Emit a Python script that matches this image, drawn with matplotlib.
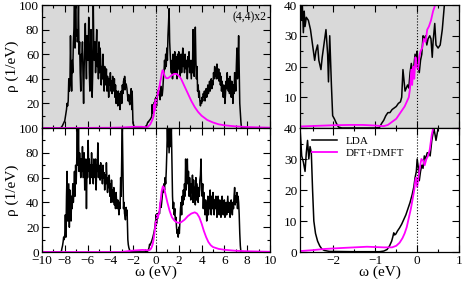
import numpy as np
import matplotlib
matplotlib.use("Agg")
import matplotlib.pyplot as plt
from matplotlib.ticker import MultipleLocator

plt.rcParams['font.family'] = ['Liberation Serif', 'DejaVu Serif']

# (4,4)x2 : LDA density of states, (omega, rho) pairs
lda_top = [
    (-10, 0), (-8.5, 0), (-8.3, 0.5), (-8.2, 2), (-8.1, 4), (-8.0, 6), (-7.9, 12), (-7.85, 15),
    (-7.8, 20), (-7.75, 18), (-7.7, 22), (-7.65, 40), (-7.6, 30), (-7.55, 35), (-7.5, 75),
    (-7.45, 45), (-7.4, 30), (-7.35, 55), (-7.3, 45), (-7.25, 70), (-7.2, 80), (-7.15, 100),
    (-7.1, 65), (-7.05, 100), (-7.0, 75), (-6.95, 80), (-6.9, 70), (-6.85, 75), (-6.8, 100),
    (-6.75, 60), (-6.7, 70), (-6.65, 45), (-6.6, 30), (-6.55, 60), (-6.5, 55), (-6.45, 70),
    (-6.4, 40), (-6.35, 20), (-6.3, 50), (-6.25, 65), (-6.2, 85), (-6.15, 60), (-6.1, 40),
    (-6.05, 75), (-6.0, 70), (-5.95, 55), (-5.9, 90), (-5.85, 45), (-5.8, 30), (-5.75, 60),
    (-5.7, 80), (-5.65, 50), (-5.6, 25), (-5.55, 45), (-5.5, 100), (-5.45, 60), (-5.4, 55),
    (-5.35, 70), (-5.3, 45), (-5.25, 65), (-5.2, 80), (-5.15, 50), (-5.1, 60), (-5.05, 40),
    (-5.0, 70), (-4.95, 45), (-4.9, 65), (-4.85, 55), (-4.8, 35), (-4.75, 50), (-4.7, 40),
    (-4.65, 60), (-4.6, 45), (-4.55, 30), (-4.5, 50), (-4.45, 40), (-4.4, 35), (-4.35, 48),
    (-4.3, 30), (-4.25, 42), (-4.2, 38), (-4.15, 25), (-4.1, 40), (-4.05, 35), (-4.0, 45),
    (-3.95, 30), (-3.9, 38), (-3.85, 28), (-3.8, 42), (-3.75, 35), (-3.7, 30), (-3.65, 40),
    (-3.6, 25), (-3.55, 35), (-3.5, 20), (-3.45, 30), (-3.4, 25), (-3.35, 18), (-3.3, 30),
    (-3.25, 22), (-3.2, 28), (-3.15, 15), (-3.1, 25), (-3.05, 30), (-3.0, 20), (-2.95, 35),
    (-2.9, 28), (-2.85, 38), (-2.8, 40), (-2.77, 35), (-2.75, 42), (-2.72, 31), (-2.7, 38),
    (-2.68, 33), (-2.65, 36), (-2.6, 35), (-2.55, 32), (-2.5, 27), (-2.45, 22), (-2.42, 25),
    (-2.38, 27), (-2.35, 22), (-2.3, 19), (-2.27, 23), (-2.22, 28), (-2.18, 32), (-2.14, 24),
    (-2.12, 15), (-2.09, 30), (-2.05, 14), (-2.02, 4), (-1.98, 3), (-1.93, 1.5), (-1.88, 0.3),
    (-1.8, 0), (-1.0, 0), (-0.9, 0.2), (-0.85, 1.5), (-0.8, 2.5), (-0.75, 4), (-0.7, 5),
    (-0.65, 5), (-0.6, 6), (-0.55, 6.5), (-0.5, 7), (-0.45, 8), (-0.4, 8.5), (-0.37, 10),
    (-0.34, 19), (-0.31, 15), (-0.29, 12), (-0.26, 13), (-0.23, 14), (-0.2, 13), (-0.17, 18),
    (-0.14, 21), (-0.11, 18), (-0.08, 20), (-0.05, 24), (-0.02, 22), (0.0, 25), (0.02, 20),
    (0.05, 18), (0.08, 22), (0.11, 24), (0.14, 30), (0.17, 29), (0.2, 30), (0.23, 27),
    (0.26, 29), (0.3, 30), (0.33, 29), (0.36, 23), (0.38, 28), (0.42, 34), (0.45, 27),
    (0.5, 26), (0.55, 27), (0.6, 32), (0.65, 40), (0.7, 45), (0.75, 55), (0.8, 48), (0.85, 60),
    (0.9, 50), (0.95, 65), (1.0, 55), (1.05, 75), (1.1, 85), (1.15, 97), (1.2, 70), (1.25, 60),
    (1.3, 50), (1.35, 45), (1.4, 55), (1.45, 40), (1.5, 60), (1.55, 45), (1.6, 55), (1.65, 62),
    (1.7, 45), (1.75, 58), (1.8, 50), (1.85, 40), (1.9, 60), (1.95, 48), (2.0, 62), (2.05, 50),
    (2.1, 42), (2.15, 55), (2.2, 60), (2.25, 45), (2.3, 55), (2.35, 65), (2.4, 50), (2.45, 58),
    (2.5, 45), (2.55, 60), (2.6, 52), (2.65, 48), (2.7, 55), (2.75, 40), (2.8, 58), (2.85, 50),
    (2.9, 62), (2.95, 45), (3.0, 55), (3.05, 48), (3.1, 40), (3.15, 55), (3.2, 45), (3.25, 80),
    (3.3, 50), (3.35, 42), (3.4, 60), (3.45, 82), (3.5, 55), (3.55, 40), (3.6, 50), (3.65, 30),
    (3.7, 35), (3.75, 25), (3.8, 30), (3.85, 22), (3.9, 18), (3.95, 22), (4.0, 20), (4.05, 25),
    (4.1, 22), (4.15, 28), (4.2, 25), (4.25, 30), (4.3, 22), (4.35, 28), (4.4, 32), (4.45, 25),
    (4.5, 30), (4.55, 35), (4.6, 28), (4.65, 32), (4.7, 38), (4.75, 30), (4.8, 35), (4.85, 40),
    (4.9, 32), (4.95, 38), (5.0, 35), (5.05, 45), (5.1, 40), (5.15, 50), (5.2, 42), (5.25, 48),
    (5.3, 40), (5.35, 52), (5.4, 45), (5.45, 40), (5.5, 48), (5.55, 38), (5.6, 45), (5.65, 35),
    (5.7, 42), (5.75, 30), (5.8, 38), (5.85, 32), (5.9, 25), (5.95, 35), (6.0, 30), (6.05, 20),
    (6.1, 28), (6.15, 38), (6.2, 32), (6.25, 45), (6.3, 35), (6.35, 30), (6.4, 40), (6.45, 28),
    (6.5, 42), (6.55, 35), (6.6, 25), (6.65, 38), (6.7, 32), (6.75, 20), (6.8, 35), (6.85, 28),
    (6.9, 45), (6.95, 40), (7.0, 30), (7.05, 50), (7.1, 65), (7.15, 40), (7.2, 55), (7.25, 75),
    (7.3, 45), (7.35, 20), (7.4, 12), (7.45, 5), (7.5, 0), (10, 0),
]

# (4,4)x2 : DFT+DMFT spectral function
dmft_top = [
    (-10, 0), (-8, 0), (-6, 0.1), (-4, 0.2), (-3, 0.4), (-2.8, 0.5), (-2.4, 0.7), (-2.0, 0.9),
    (-1.6, 1.0), (-1.3, 1.0), (-1.0, 0.8), (-0.8, 0.6), (-0.7, 1.0), (-0.6, 2), (-0.5, 3),
    (-0.4, 5), (-0.3, 7), (-0.25, 8.5), (-0.2, 10), (-0.17, 13), (-0.14, 19), (-0.12, 14),
    (-0.09, 20), (-0.07, 16), (-0.04, 23), (-0.01, 20), (0.02, 19), (0.05, 23), (0.08, 25),
    (0.12, 26), (0.16, 29), (0.2, 28), (0.24, 32), (0.28, 33), (0.33, 35), (0.38, 38),
    (0.43, 40), (0.5, 44), (0.58, 47), (0.65, 46), (0.75, 42.5), (0.9, 40.5), (1.05, 40.5),
    (1.2, 41.5), (1.4, 43), (1.6, 44), (1.8, 44), (2.0, 42.5), (2.2, 40), (2.5, 34), (2.8, 28),
    (3.1, 22), (3.4, 17), (3.7, 13), (4.0, 10), (4.5, 6.5), (5.0, 4.5), (5.5, 3), (6, 2.2),
    (7, 1.3), (8, 0.8), (9, 0.5), (10, 0.3),
]

# second system : LDA
lda_bot = [
    (-10, 0), (-8.4, 0), (-8.3, 0.5), (-8.25, 3), (-8.2, 5), (-8.15, 8), (-8.1, 12), (-8.05, 10),
    (-8.0, 14), (-7.95, 30), (-7.9, 12), (-7.85, 45), (-7.8, 65), (-7.75, 25), (-7.7, 40),
    (-7.65, 55), (-7.6, 20), (-7.55, 50), (-7.5, 30), (-7.45, 25), (-7.4, 45), (-7.35, 35),
    (-7.3, 55), (-7.25, 40), (-7.2, 50), (-7.15, 65), (-7.1, 45), (-7.05, 70), (-7.0, 55),
    (-6.95, 75), (-6.9, 100), (-6.85, 70), (-6.8, 100), (-6.75, 65), (-6.7, 80), (-6.65, 70),
    (-6.6, 60), (-6.55, 75), (-6.5, 65), (-6.45, 85), (-6.4, 60), (-6.35, 70), (-6.3, 80),
    (-6.25, 50), (-6.2, 65), (-6.15, 75), (-6.1, 35), (-6.05, 70), (-6.0, 60), (-5.95, 90),
    (-5.9, 65), (-5.85, 75), (-5.8, 55), (-5.75, 70), (-5.7, 60), (-5.65, 80), (-5.6, 65),
    (-5.55, 70), (-5.5, 55), (-5.45, 75), (-5.4, 65), (-5.35, 60), (-5.3, 75), (-5.25, 50),
    (-5.2, 70), (-5.15, 65), (-5.1, 88), (-5.05, 60), (-5.0, 70), (-4.95, 62), (-4.9, 58),
    (-4.85, 72), (-4.8, 60), (-4.75, 66), (-4.7, 55), (-4.65, 70), (-4.6, 60), (-4.55, 64),
    (-4.5, 50), (-4.45, 62), (-4.4, 55), (-4.35, 72), (-4.3, 58), (-4.25, 48), (-4.2, 60),
    (-4.15, 52), (-4.1, 62), (-4.05, 45), (-4.0, 55), (-3.95, 40), (-3.9, 58), (-3.85, 45),
    (-3.8, 50), (-3.75, 40), (-3.7, 52), (-3.65, 38), (-3.6, 45), (-3.55, 35), (-3.5, 48),
    (-3.45, 40), (-3.4, 35), (-3.35, 42), (-3.3, 38), (-3.25, 30), (-3.2, 40), (-3.15, 35),
    (-3.1, 60), (-3.05, 45), (-3.0, 80), (-2.95, 100), (-2.9, 70), (-2.85, 35), (-2.8, 40),
    (-2.76, 31), (-2.72, 29), (-2.68, 26), (-2.65, 32), (-2.62, 36), (-2.59, 30), (-2.56, 34),
    (-2.53, 32), (-2.5, 20), (-2.47, 10), (-2.43, 6), (-2.38, 3.5), (-2.33, 2), (-2.28, 1),
    (-2.22, 0.5), (-2.1, 0.2), (-1.5, 0.1), (-0.9, 0.1), (-0.8, 0.3), (-0.72, 0.8), (-0.66, 2),
    (-0.61, 3.5), (-0.58, 5), (-0.56, 6.2), (-0.54, 5.5), (-0.51, 5.8), (-0.47, 6.8),
    (-0.42, 7.8), (-0.37, 9), (-0.32, 10.5), (-0.27, 12), (-0.22, 14), (-0.17, 16),
    (-0.12, 18.5), (-0.08, 21), (-0.05, 24), (-0.02, 26), (0.0, 30), (0.03, 27), (0.05, 23),
    (0.08, 26), (0.11, 28), (0.14, 27), (0.17, 31), (0.2, 30), (0.24, 32), (0.28, 32),
    (0.31, 31), (0.35, 36), (0.4, 40), (0.45, 36), (0.5, 40), (0.55, 45), (0.6, 52), (0.65, 48),
    (0.7, 55), (0.75, 50), (0.8, 60), (0.85, 55), (0.9, 65), (0.95, 80), (1.0, 100), (1.05, 85),
    (1.1, 100), (1.15, 80), (1.2, 90), (1.25, 100), (1.3, 85), (1.35, 100), (1.4, 70),
    (1.45, 45), (1.5, 35), (1.55, 40), (1.6, 30), (1.65, 35), (1.7, 25), (1.75, 28), (1.8, 20),
    (1.85, 15), (1.9, 18), (1.95, 12), (2.0, 20), (2.05, 15), (2.1, 25), (2.15, 35), (2.2, 40),
    (2.25, 30), (2.3, 45), (2.35, 38), (2.4, 50), (2.45, 42), (2.5, 55), (2.55, 45), (2.6, 75),
    (2.65, 50), (2.7, 60), (2.75, 75), (2.8, 55), (2.85, 65), (2.9, 45), (2.95, 60), (3.0, 50),
    (3.05, 42), (3.1, 55), (3.15, 48), (3.2, 62), (3.25, 40), (3.3, 58), (3.35, 45), (3.4, 52),
    (3.45, 38), (3.5, 60), (3.55, 42), (3.6, 55), (3.65, 48), (3.7, 40), (3.75, 52), (3.8, 45),
    (3.85, 58), (3.9, 62), (3.95, 75), (4.0, 50), (4.05, 45), (4.1, 55), (4.15, 35), (4.2, 48),
    (4.25, 40), (4.3, 30), (4.35, 42), (4.4, 38), (4.45, 25), (4.5, 35), (4.55, 45), (4.6, 30),
    (4.65, 40), (4.7, 35), (4.75, 50), (4.8, 38), (4.85, 30), (4.9, 45), (4.95, 35), (5.0, 48),
    (5.05, 40), (5.1, 30), (5.15, 42), (5.2, 35), (5.25, 45), (5.3, 38), (5.35, 28), (5.4, 40),
    (5.45, 45), (5.5, 35), (5.55, 30), (5.6, 42), (5.65, 38), (5.7, 28), (5.75, 35), (5.8, 45),
    (5.85, 40), (5.9, 30), (5.95, 38), (6.0, 42), (6.05, 28), (6.1, 35), (6.15, 40), (6.2, 30),
    (6.25, 38), (6.3, 45), (6.35, 32), (6.4, 40), (6.45, 35), (6.5, 28), (6.55, 38), (6.6, 42),
    (6.65, 35), (6.7, 30), (6.75, 40), (6.8, 35), (6.85, 45), (6.9, 52), (6.95, 38), (7.0, 45),
    (7.05, 40), (7.1, 48), (7.15, 35), (7.2, 45), (7.25, 40), (7.3, 30), (7.35, 15), (7.4, 5),
    (7.45, 0), (10, 0),
]

# second system : DFT+DMFT
dmft_bot = [
    (-10, 0), (-3, 0), (-2.8, 0.3), (-2.5, 0.6), (-2.2, 1.0), (-1.8, 1.3), (-1.5, 1.5),
    (-1.2, 1.7), (-1.0, 1.6), (-0.8, 1.5), (-0.6, 1.5), (-0.5, 2), (-0.42, 3), (-0.35, 4.5),
    (-0.3, 6), (-0.25, 8), (-0.2, 11), (-0.15, 14), (-0.11, 17), (-0.07, 20), (-0.04, 23.5),
    (-0.02, 24), (0.0, 21), (0.03, 24), (0.06, 27), (0.1, 30), (0.14, 29.5), (0.18, 28),
    (0.22, 30), (0.26, 31), (0.3, 33), (0.35, 38), (0.4, 41), (0.5, 49), (0.6, 53), (0.7, 52),
    (0.8, 48), (1.0, 40), (1.2, 33), (1.4, 28), (1.6, 25.5), (1.8, 24), (2.0, 23.5), (2.2, 24),
    (2.5, 26), (2.8, 29), (3.1, 31), (3.4, 32), (3.6, 31), (3.8, 28), (4.0, 23), (4.2, 17),
    (4.4, 12), (4.6, 8), (4.8, 5.5), (5.0, 4), (5.5, 2.5), (6, 1.8), (7, 1), (8, 0.6),
    (9, 0.4), (10, 0.2),
]

wide_yticks = [0, 20, 40, 60, 80, 100]
zoom_yticks = [0, 10, 20, 30, 40]

fig = plt.figure(figsize=(4.63, 2.83), dpi=100)
gray = '#d9d9d9'
lx, lw_ = 0.0907, 0.4924
rx, rw = 0.648, 0.3434
tb, th = 0.5477, 0.4346
bb, bh = 0.1095, 0.4382

ax_tl = fig.add_axes([lx, tb, lw_, th])
ax_bl = fig.add_axes([lx, bb, lw_, bh])
ax_tr = fig.add_axes([rx, tb, rw, th])
ax_br = fig.add_axes([rx, bb, rw, bh])

panels = [
    (ax_tl, lda_top, dmft_top, (-10, 10), wide_yticks, True),
    (ax_bl, lda_bot, dmft_bot, (-10, 10), wide_yticks, False),
    (ax_tr, lda_top, dmft_top, (-2.8, 1), zoom_yticks, True),
    (ax_br, lda_bot, dmft_bot, (-2.8, 1), zoom_yticks, False),
]

for ax, lda, dmft, xl, yt, top in panels:
    lda = np.array(lda)
    dmft = np.array(dmft)
    ax.plot(lda[:, 0], lda[:, 1], color='black', lw=1.1, label='LDA')
    ax.plot(dmft[:, 0], dmft[:, 1], color='#ff00ff', lw=1.3, label='DFT+DMFT')
    ax.axvline(0, color='black', ls=':', lw=0.8)
    if top:
        ax.set_facecolor(gray)
    if xl[0] == -10:
        ax.xaxis.set_major_locator(MultipleLocator(2))
        ax.xaxis.set_minor_locator(MultipleLocator(1))
        ax.yaxis.set_minor_locator(MultipleLocator(10))
    else:
        ax.xaxis.set_major_locator(MultipleLocator(1))
        ax.xaxis.set_minor_locator(MultipleLocator(0.5))
        ax.yaxis.set_minor_locator(MultipleLocator(5))
    # top panels drop the 0 label, the lower panel's top label sits there
    ax.set_yticks(yt[1:] if top else yt)
    ax.set_xlim(*xl)
    ax.set_ylim(yt[0], yt[-1])
    ax.tick_params(which='both', direction='in', top=True, right=True, labelsize=9.5, pad=2)
    ax.tick_params(which='major', length=5, width=0.8)
    ax.tick_params(which='minor', length=2.5, width=0.8)
    for s in ax.spines.values():
        s.set_linewidth(0.9)
    if top:
        ax.tick_params(labelbottom=False)
    else:
        ax.set_xlabel('ω (eV)', fontsize=11, labelpad=-1)

for ax in (ax_tl, ax_bl):
    ax.set_ylabel('ρ (1/eV)', fontsize=11)
    ax.yaxis.set_label_coords(-0.1, 0.5)

ax_tl.text(0.985, 0.9, '(4,4)x2', transform=ax_tl.transAxes, ha='right', va='center', fontsize=8.5)

ax_br.legend(loc='upper left', bbox_to_anchor=(0.05, 0.97), frameon=False, fontsize=8,
             handlelength=2.2, labelspacing=0.2, borderaxespad=0)

fig.savefig('out.png', dpi=100)
